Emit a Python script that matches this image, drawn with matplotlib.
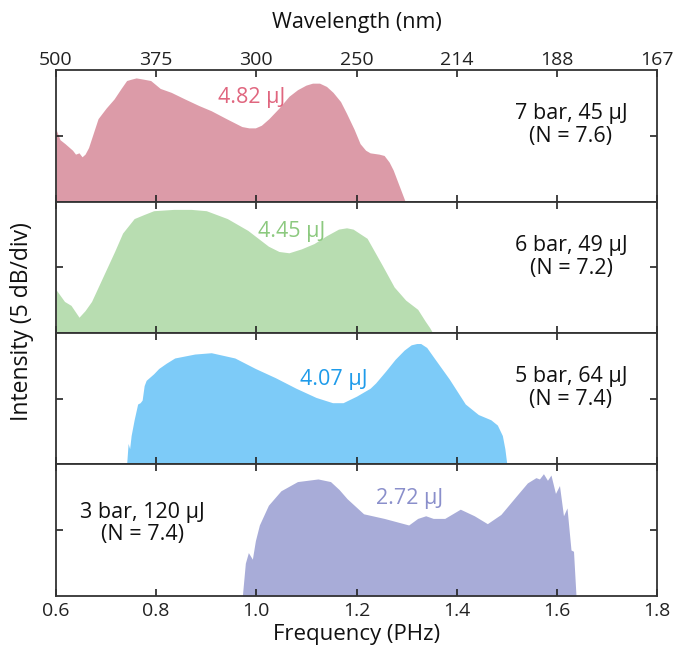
import matplotlib
matplotlib.use("Agg")
import matplotlib.pyplot as plt
import numpy as np

plt.rcParams['font.family'] = ['Open Sans', 'DejaVu Sans']

# ---- data (frequency in PHz, level as fraction of the 10 dB panel span) ----
red_f = [0.600, 0.608, 0.618, 0.627, 0.633, 0.639, 0.646, 0.652, 0.658, 0.665, 0.684, 0.700, 0.716, 0.730,
         0.741, 0.750, 0.760, 0.775, 0.789, 0.808, 0.830, 0.857, 0.885, 0.910, 0.940, 0.971, 0.985, 0.998,
         1.010, 1.025, 1.045, 1.065, 1.082, 1.099, 1.112, 1.126, 1.140, 1.153, 1.168, 1.180, 1.195, 1.207,
         1.218, 1.227, 1.245, 1.255, 1.265, 1.273, 1.281, 1.288, 1.294, 1.297]
red_v = [0.55, 0.47, 0.44, 0.41, 0.39, 0.36, 0.37, 0.34, 0.36, 0.41, 0.63, 0.71, 0.78, 0.86,
         0.92, 0.93, 0.94, 0.93, 0.92, 0.86, 0.83, 0.78, 0.73, 0.69, 0.63, 0.57, 0.56, 0.56,
         0.58, 0.63, 0.71, 0.80, 0.85, 0.885, 0.90, 0.90, 0.875, 0.83, 0.76, 0.67, 0.55, 0.44,
         0.39, 0.37, 0.36, 0.35, 0.30, 0.24, 0.16, 0.09, 0.03, 0.0]

green_f = [0.600, 0.617, 0.630, 0.646, 0.658, 0.671, 0.694, 0.717, 0.733, 0.756, 0.775, 0.795, 0.835, 0.870,
           0.900, 0.942, 0.983, 1.024, 1.045, 1.065, 1.090, 1.115, 1.140, 1.164, 1.180, 1.193, 1.221, 1.252,
           1.275, 1.298, 1.322, 1.337, 1.346, 1.352]
green_v = [0.33, 0.24, 0.21, 0.12, 0.17, 0.24, 0.43, 0.62, 0.76, 0.87, 0.90, 0.93, 0.94, 0.94,
           0.93, 0.87, 0.78, 0.66, 0.62, 0.61, 0.64, 0.68, 0.74, 0.79, 0.80, 0.79, 0.72, 0.51,
           0.35, 0.25, 0.18, 0.09, 0.04, 0.0]

blue_f = [0.741, 0.744, 0.747, 0.750, 0.756, 0.763, 0.768, 0.772, 0.776, 0.780, 0.786, 0.795, 0.805, 0.820,
          0.837, 0.877, 0.910, 0.957, 0.998, 1.038, 1.079, 1.119, 1.152, 1.173, 1.200, 1.227, 1.238, 1.258,
          1.277, 1.295, 1.309, 1.320, 1.328, 1.340, 1.353, 1.385, 1.417, 1.443, 1.468, 1.481, 1.491, 1.496,
          1.500]
blue_v = [0.0, 0.16, 0.12, 0.22, 0.34, 0.46, 0.47, 0.49, 0.60, 0.64, 0.66, 0.69, 0.73, 0.77,
          0.81, 0.84, 0.85, 0.81, 0.73, 0.66, 0.58, 0.51, 0.47, 0.47, 0.52, 0.58, 0.62, 0.71,
          0.80, 0.87, 0.91, 0.92, 0.92, 0.89, 0.82, 0.65, 0.46, 0.38, 0.34, 0.30, 0.22, 0.12,
          0.0]

purple_f = [0.972, 0.978, 0.984, 0.992, 0.998, 1.006, 1.024, 1.049, 1.082, 1.123, 1.148, 1.165, 1.181, 1.214,
            1.255, 1.304, 1.322, 1.338, 1.353, 1.376, 1.407, 1.435, 1.461, 1.488, 1.521, 1.541, 1.558, 1.565,
            1.573, 1.581, 1.588, 1.597, 1.605, 1.613, 1.620, 1.628, 1.633, 1.638]
purple_v = [0.0, 0.25, 0.33, 0.28, 0.42, 0.54, 0.69, 0.80, 0.87, 0.89, 0.87, 0.81, 0.74, 0.625,
            0.59, 0.54, 0.59, 0.61, 0.59, 0.59, 0.66, 0.61, 0.55, 0.62, 0.77, 0.86, 0.90, 0.89,
            0.93, 0.88, 0.92, 0.78, 0.84, 0.61, 0.67, 0.35, 0.34, 0.0]

fills = [(red_f, red_v), (green_f, green_v), (blue_f, blue_v), (purple_f, purple_v)]
fill_colors = ['#DC9BA8', '#B8DDB1', '#7DCBF8', '#A8ACD8']
energy_labels = ['4.82 μJ', '4.45 μJ', '4.07 μJ', '2.72 μJ']
energy_colors = ['#E0667F', '#8CC97F', '#1E9BEA', '#8A8FCB']
energy_pos = [(0.99, 0.79), (1.07, 0.77), (1.155, 0.65), (1.305, 0.74)]
cond_labels = ['7 bar, 45 μJ\n(N = 7.6)', '6 bar, 49 μJ\n(N = 7.2)',
               '5 bar, 64 μJ\n(N = 7.4)', '3 bar, 120 μJ\n(N = 7.4)']
cond_pos = [(1.628, 0.58), (1.628, 0.58), (1.628, 0.58), (0.772, 0.55)]

freq_ticks = [0.6, 0.8, 1.0, 1.2, 1.4, 1.6, 1.8]
freq_tick_labels = ['0.6', '0.8', '1.0', '1.2', '1.4', '1.6', '1.8']
wl_tick_labels = ['500', '375', '300', '250', '214', '188', '167']

fig = plt.figure(figsize=(6.81, 6.50), dpi=100)
gs = fig.add_gridspec(4, 1, left=0.0822, right=0.965, top=0.8923, bottom=0.0831, hspace=0)
axes = [fig.add_subplot(gs[i, 0]) for i in range(4)]

for i, ax in enumerate(axes):
    f, v = fills[i]
    ax.fill_between(f, 0, v, color=fill_colors[i], linewidth=0)
    ax.set_xlim(0.6, 1.8)
    ax.set_ylim(0, 1)
    ax.set_xticks(freq_ticks)
    ax.set_yticks([0.5])
    ax.set_yticklabels([])
    ax.tick_params(direction='in', length=5, width=1.2, top=True, right=True,
                   labelsize=14, colors='#222222', pad=4)
    for s in ax.spines.values():
        s.set_linewidth(1.3)
        s.set_color('#333333')
    tx, ty = energy_pos[i]
    ax.text(tx, ty, energy_labels[i], color=energy_colors[i], fontsize=15.5,
            ha='center', va='center')
    cx, cy = cond_pos[i]
    ax.text(cx, cy, cond_labels[i], color='#111111', fontsize=15.5,
            ha='center', va='center', linespacing=1.1)
    if i < 3:
        ax.set_xticklabels([])
    else:
        ax.set_xticklabels(freq_tick_labels)
        ax.set_xlabel('Frequency (PHz)', fontsize=16, labelpad=3, color='#111111')

top = axes[0]
top.tick_params(labeltop=True, labelbottom=False)
top.tick_params(axis='x', which='both', pad=1)
top.set_xticklabels(wl_tick_labels)
top.xaxis.set_label_position('top')
top.set_xlabel('Wavelength (nm)', fontsize=15.5, labelpad=16, color='#111111')

fig.text(0.032, 0.505, 'Intensity (5 dB/div)', rotation=90, fontsize=16.5,
         ha='center', va='center', color='#111111')

fig.savefig('out.png', dpi=100)
